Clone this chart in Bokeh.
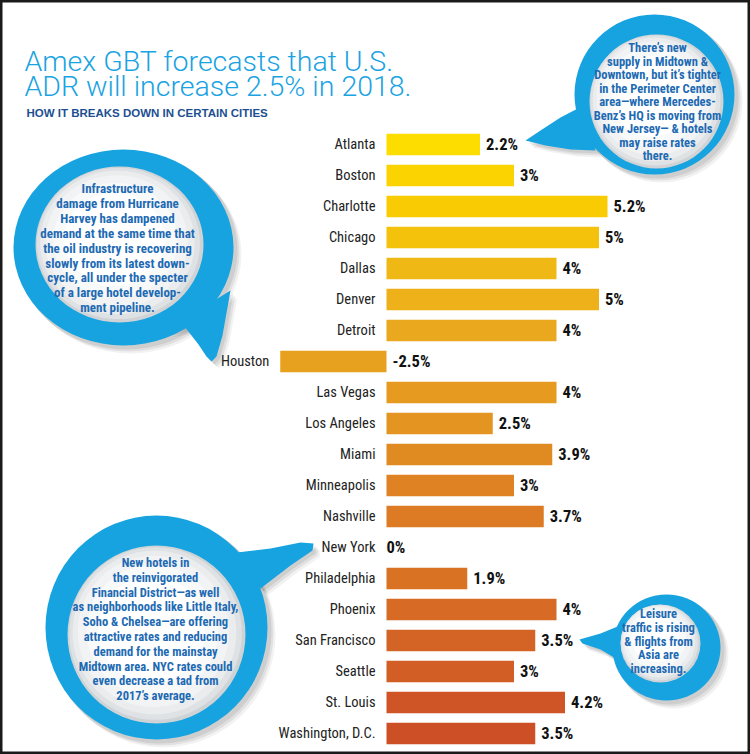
from bokeh.plotting import figure
from bokeh.models import Range1d, ColumnDataSource
from bokeh.core.properties import value
from bokeh.embed import file_html
from bokeh.resources import INLINE

# ---------------- data ----------------
cities = ["Atlanta", "Boston", "Charlotte", "Chicago", "Dallas", "Denver", "Detroit",
          "Houston", "Las Vegas", "Los Angeles", "Miami", "Minneapolis", "Nashville",
          "New York", "Philadelphia", "Phoenix", "San Francisco", "Seattle",
          "St. Louis", "Washington, D.C."]
adr_change = [2.2, 3, 5.2, 5, 4, 5, 4, -2.5, 4, 2.5, 3.9, 3, 3.7, 0, 1.9, 4, 3.5, 3, 4.2, 3.5]
bar_colors = ["#FDDC00", "#FBD300", "#F9CB02", "#F4C20A", "#F0B814", "#EEB119", "#EAA81E",
              "#E8A11F", "#E69A20", "#E49421", "#E08A22", "#DE8223", "#DC7B23", "#DA7523",
              "#D97223", "#D76A25", "#D46426", "#D25E26", "#CF5526", "#CD4F25"]

title_lines = ["Amex GBT forecasts that U.S.", "ADR will increase 2.5% in 2018."]
subtitle = "HOW IT BREAKS DOWN IN CERTAIN CITIES"

note_atlanta = ["There\u2019s new", "supply in Midtown &", "Downtown, but it\u2019s tighter",
                "in the Perimeter Center", "area\u2014where Mercedes-",
                "Benz\u2019s HQ is moving from", "New Jersey\u2014 & hotels",
                "may raise rates", "there."]
note_houston = ["Infrastructure", "damage from Hurricane", "Harvey has dampened",
                "demand at the same time that", "the oil industry is recovering",
                "slowly from its latest down-", "cycle, all under the specter",
                "of a large hotel develop-", "ment pipeline."]
note_newyork = ["New hotels in", "the reinvigorated", "Financial District\u2014as well",
                "as neighborhoods like Little Italy,", "Soho & Chelsea\u2014are offering",
                "attractive rates and reducing", "demand for the mainstay",
                "Midtown area. NYC rates could", "even decrease a tad from",
                "2017\u2019s average."]
note_sf = ["Leisure", "traffic is rising", "& flights from", "Asia are", "increasing."]

# ---------------- layout ----------------
W, H = 750, 754
X0, SX = 386.0, 42.5     # pixel of 0 %, pixels per %
Y0, SY = 144.0, 31.0     # pixel of first row centre, pixels per row


def X(px):
    return (px - X0) / SX


def Y(py):
    return (py - Y0) / SY


p = figure(width=W, height=H, output_backend="svg", toolbar_location=None,
           x_range=Range1d(X(0), X(W)), y_range=Range1d(Y(H), Y(0)),
           x_axis_location=None, y_axis_location=None, min_border=0,
           background_fill_color="white", border_fill_color="white")
p.grid.visible = False
p.outline_line_color = "#1a1a1a"
p.outline_line_width = 4

COND = value("Roboto Condensed")
BLUE_RING = "#16A3E0"
NOTE_BLUE = "#1D6AB3"

# title
p.text(x=[X(24), X(24)], y=[Y(61), Y(85.5)], text=title_lines, text_align="left",
       text_baseline="alphabetic", text_font=value("Roboto Light"),
       text_font_size="28.5px", text_color="#1AA3E2")
p.text(x=[X(26)], y=[Y(112)], text=[subtitle], text_align="left",
       text_baseline="alphabetic", text_font=value("Liberation Sans"),
       text_font_size="11.5px", text_font_style="bold", text_color="#1D4F91")


# ---------------- speech bubbles ----------------
def bubble(outer, inner, tail, lines, cx, y0, dy, fs):
    ox, oy, ow, oh = outer
    ix, iy, iw, ih = inner
    # soft shadow
    for k, a in [(7, 0.05), (5, 0.07), (3, 0.08)]:
        p.ellipse(x=[X(ox + k)], y=[Y(oy + k)], width=[ow + 2], height=[oh + 2],
                  width_units="screen", height_units="screen",
                  fill_color="#000000", fill_alpha=a, line_color=None)
        p.patch(x=[X(tx + k) for tx, ty in tail], y=[Y(ty + k) for tx, ty in tail],
                fill_color="#000000", fill_alpha=a, line_color=None)
    # blue ring + tail
    p.patch(x=[X(tx) for tx, ty in tail], y=[Y(ty) for tx, ty in tail],
            fill_color=BLUE_RING, line_color=None)
    p.ellipse(x=[X(ox)], y=[Y(oy)], width=[ow], height=[oh],
              width_units="screen", height_units="screen",
              fill_color=BLUE_RING, line_color=None)
    # inner disc with soft grey edge
    for s, c, d in [(1.0, "#cfd3d6", 0), (0.97, "#dfe2e4", -1), (0.92, "#eaeced", -2),
                    (0.85, "#f2f3f4", -3), (0.74, "#f8f9f9", -4), (0.6, "#ffffff", -5)]:
        p.ellipse(x=[X(ix + d)], y=[Y(iy + d)], width=[iw * s], height=[ih * s],
                  width_units="screen", height_units="screen",
                  fill_color=c, line_color=None)
    p.text(x=[X(cx)] * len(lines), y=[Y(y0 + i * dy) for i in range(len(lines))],
           text=lines, text_align="center", text_baseline="middle",
           text_font=COND, text_font_size=f"{fs}px", text_font_style="bold",
           text_color=NOTE_BLUE)


bubble((654, 94, 160, 160), (656, 101, 134, 134),
       [(525, 140), (540, 130), (560, 117), (585, 104), (595, 150), (570, 149), (545, 145)],
       note_atlanta, 657, 47, 13.5, 12.5)
bubble((123, 247, 220, 196), (119, 244, 168, 156),
       [(165, 330), (184, 326), (198, 344), (206, 356), (211, 361), (216, 356),
        (222, 335), (230, 290)],
       note_houston, 117, 188, 14.9, 13)
bubble((156, 627, 222, 224), (156, 634, 178, 178),
       [(228, 553), (270, 548), (300, 542), (313, 543), (312, 550), (290, 565), (260, 588)],
       note_newyork, 155, 562, 14.8, 12.5)
bubble((666, 647, 108, 106), (660, 643, 80, 78),
       [(622, 624), (600, 633), (579, 639), (582, 643), (600, 649), (622, 662)],
       note_sf, 658, 613, 13.75, 12.5)

# ---------------- bars and labels ----------------
rows = list(range(len(cities)))
src = ColumnDataSource(dict(
    y=rows,
    right=adr_change,
    color=bar_colors,
    city=cities,
    lab_x=[min(v, 0) for v in adr_change],
    val_x=[max(v, 0) for v in adr_change],
    val_off=[6 if v != 0 else 0 for v in adr_change],
    val_txt=[f"{v:g}%" for v in adr_change],
))

p.hbar(y="y", left=0, right="right", height=0.69, fill_color="color",
       line_color=None, source=src)
p.text(x="lab_x", y="y", text="city", x_offset=-11, text_align="right",
       text_baseline="middle", text_font=COND, text_font_size="14.5px",
       text_color="#222222", source=src)
p.text(x="val_x", y="y", text="val_txt", x_offset="val_off", text_align="left",
       text_baseline="middle", text_font=COND, text_font_size="16.5px",
       text_font_style="bold", text_color="#111111", source=src)

open("out.html", "w").write(file_html(p, INLINE))
